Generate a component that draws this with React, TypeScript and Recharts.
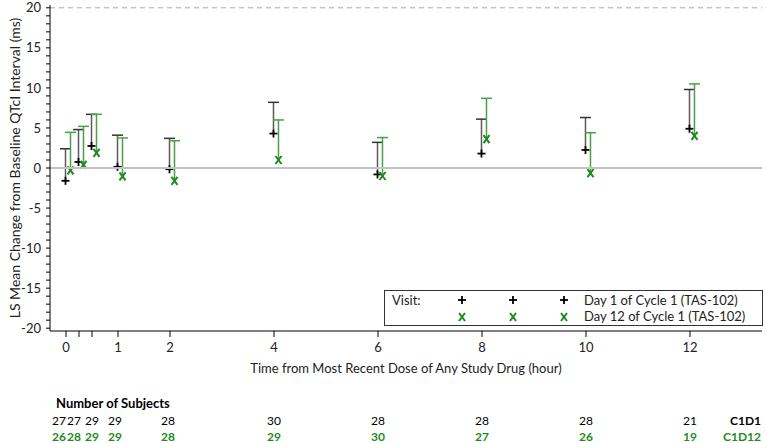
import React from 'react';
import { ComposedChart, Bar, XAxis, YAxis, ReferenceLine, Legend } from 'recharts';

const times = [0, 0.25, 0.5, 1, 2, 4, 6, 8, 10, 12];
const c1d1Mean = [-1.6, 0.75, 2.75, 0.15, -0.15, 4.3, -0.8, 1.8, 2.25, 4.9];
const c1d1Upper = [2.4, 4.8, 6.7, 4.1, 3.7, 8.2, 3.2, 6.1, 6.3, 9.8];
const c1d12Mean = [-0.3, 0.4, 1.9, -1.05, -1.6, 1.0, -1.0, 3.6, -0.65, 4.0];
const c1d12Upper = [4.45, 5.2, 6.7, 3.75, 3.4, 6.0, 3.8, 8.7, 4.4, 10.5];
const c1d1N = [27, 27, 29, 29, 28, 30, 28, 28, 28, 21];
const c1d12N = [26, 28, 29, 29, 28, 29, 30, 27, 26, 19];
const yTicks = [-20, -19, -18, -17, -16, -15, -14, -13, -12, -11, -10, -9, -8, -7, -6, -5, -4, -3, -2, -1, 0, 1, 2, 3, 4, 5, 6, 7, 8, 9, 10, 11, 12, 13, 14, 15, 16, 17, 18, 19, 20];
const unlabeledTimes = [0.25, 0.5];

const rows = times.map((t, i) => ({
  time: t,
  c1d1: [c1d1Mean[i], c1d1Upper[i]],
  c1d12: [c1d12Mean[i], c1d12Upper[i]],
}));

const FONT = 'Lato, "Open Sans", sans-serif';
const GREEN = '#1f8a1f';
const GREEN_LINE = '#4b9e4b';

// small horizontal nudges for the crowded count labels near time 0
const countNudge = (v: number) => (v === 0 ? -7 : v === 0.25 ? -5 : v === 0.5 ? 0 : v === 1 ? -3 : v === 2 ? -2 : 0);

const makeShape = (kind: 'plus' | 'x') => (props: any) => {
  const { x, y, width, height } = props;
  if (x == null || y == null) return <g />;
  const cx = x + width;
  const top = Math.min(y, y + height);
  const bot = Math.max(y, y + height);
  if (kind === 'plus') {
    return (
      <g>
        <line x1={cx} y1={top} x2={cx} y2={bot} stroke="#5a5a5a" strokeWidth={1.5} />
        <line x1={cx - 5.5} y1={top} x2={cx + 5.5} y2={top} stroke="#333" strokeWidth={1.5} />
        <line x1={cx - 4} y1={bot} x2={cx + 4} y2={bot} stroke="#000" strokeWidth={1.8} />
        <line x1={cx} y1={bot - 4} x2={cx} y2={bot + 4} stroke="#000" strokeWidth={1.8} />
      </g>
    );
  }
  return (
    <g>
      <line x1={cx} y1={top} x2={cx} y2={bot} stroke={GREEN_LINE} strokeWidth={1.5} />
      <line x1={cx - 5.5} y1={top} x2={cx + 5.5} y2={top} stroke={GREEN_LINE} strokeWidth={1.5} />
      <line x1={cx - 3} y1={bot - 4} x2={cx + 3} y2={bot + 4} stroke={GREEN} strokeWidth={2} />
      <line x1={cx + 3} y1={bot - 4} x2={cx - 3} y2={bot + 4} stroke={GREEN} strokeWidth={2} />
    </g>
  );
};

const XTick = (props: any) => {
  const { x, y, payload } = props;
  const v = payload.value;
  const i = times.indexOf(v);
  const showLabel = unlabeledTimes.indexOf(v) < 0;
  const nx = x + countNudge(v);
  return (
    <g fontFamily={FONT}>
      {showLabel && (
        <text x={x} y={y + 13} textAnchor="middle" fontSize={13} fill="#222">{v}</text>
      )}
      {i >= 0 && (
        <text x={nx} y={y + 86} textAnchor="middle" fontSize={12} fill="#000">{c1d1N[i]}</text>
      )}
      {i >= 0 && (
        <text x={nx} y={y + 102} textAnchor="middle" fontSize={12} fontWeight="bold" fill={GREEN}>{c1d12N[i]}</text>
      )}
      {v === 0 && (
        <text x={x - 10} y={y + 69} textAnchor="start" fontSize={13} fontWeight="bold" fill="#000">Number of Subjects</text>
      )}
      {v === 12 && (
        <g>
          <text x={x + 71} y={y + 86} textAnchor="end" fontSize={12} fontWeight="bold" fill="#000">C1D1</text>
          <text x={x + 71} y={y + 102} textAnchor="end" fontSize={12} fontWeight="bold" fill={GREEN}>C1D12</text>
        </g>
      )}
    </g>
  );
};

const XLabel = (props: any) => {
  const vb = props.viewBox || {};
  return (
    <text x={vb.x + vb.width / 2} y={vb.y + 42} textAnchor="middle" fontSize={13} fontFamily={FONT} fill="#222">
      Time from Most Recent Dose of Any Study Drug (hour)
    </text>
  );
};

const YLabel = (props: any) => {
  const vb = props.viewBox || {};
  const cy = vb.y + vb.height / 2;
  return (
    <text x={14} y={cy} transform={`rotate(-90, 14, ${cy})`} textAnchor="middle" dominantBaseline="central" fontSize={14} fontFamily={FONT} fill="#222">
      LS Mean Change from Baseline QTcI Interval (ms)
    </text>
  );
};

const LegendBox = () => {
  const markers = [78, 129, 180];
  return (
    <svg width={379} height={36} style={{ display: 'block', fontFamily: FONT }}>
      <rect x={0.5} y={0.5} width={378} height={35} fill="#fff" stroke="#333" strokeWidth={1} />
      <text x={8} y={14.5} fontSize={13} fill="#222">Visit:</text>
      {markers.map((mx) => (
        <g key={'p' + mx}>
          <line x1={mx - 4} y1={10} x2={mx + 4} y2={10} stroke="#000" strokeWidth={1.8} />
          <line x1={mx} y1={6} x2={mx} y2={14} stroke="#000" strokeWidth={1.8} />
        </g>
      ))}
      {markers.map((mx) => (
        <g key={'x' + mx}>
          <line x1={mx - 3} y1={23} x2={mx + 3} y2={31} stroke={GREEN} strokeWidth={2} />
          <line x1={mx + 3} y1={23} x2={mx - 3} y2={31} stroke={GREEN} strokeWidth={2} />
        </g>
      ))}
      <text x={200} y={14.5} fontSize={13} fill="#222">Day 1 of Cycle 1 (TAS-102)</text>
      <text x={200} y={30.5} fontSize={13} fill="#222">Day 12 of Cycle 1 (TAS-102)</text>
    </svg>
  );
};

export default function App() {
  return (
    <div style={{ position: 'absolute', left: 0, top: 0, width: 767, height: 443, background: '#fff' }}>
      <ComposedChart
        width={767}
        height={443}
        data={rows}
        margin={{ top: 5, right: 5, bottom: 82, left: 0 }}
        barGap={0}
        barCategoryGap={0}
      >
        <XAxis
          dataKey="time"
          type="number"
          domain={[-0.3077, 13.385]}
          allowDataOverflow
          ticks={times}
          interval={0}
          tick={<XTick />}
          tickSize={6}
          tickMargin={2}
          height={30}
          stroke="#000"
          label={<XLabel />}
        />
        <YAxis
          type="number"
          domain={[-20.35, 20.35]}
          allowDataOverflow
          ticks={yTicks}
          interval={0}
          width={50}
          tickSize={4}
          tickMargin={5}
          stroke="#000"
          tick={{ fontSize: 13, fontFamily: FONT, fill: '#222' }}
          tickFormatter={(v: number) => (v % 5 === 0 ? String(v) : '')}
          label={<YLabel />}
        />
        <ReferenceLine y={20} stroke="#aaa" strokeDasharray="5 4" strokeWidth={1} />
        <ReferenceLine y={0} stroke="#c2c2c2" strokeWidth={2} />
        <Bar dataKey="c1d1" barSize={5} shape={makeShape('plus')} isAnimationActive={false} />
        <Bar dataKey="c1d12" barSize={5} shape={makeShape('x')} isAnimationActive={false} />
        <Legend
          layout="vertical"
          verticalAlign="middle"
          align="center"
          content={<LegendBox />}
          wrapperStyle={{ left: 384, top: 290, width: 379, height: 36 }}
        />
      </ComposedChart>
    </div>
  );
}
